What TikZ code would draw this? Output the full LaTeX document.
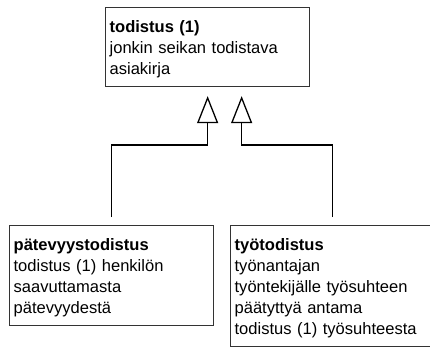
\documentclass[tikz,border=0pt]{standalone}
\usepackage{fontspec}
\setmainfont{Liberation Sans}
\usetikzlibrary{arrows.meta}
\newcommand{\firstln}{\rule{0pt}{25bp}}
\newcommand{\lastln}{\rule[-12bp]{0pt}{12bp}}
\tikzset{
  box/.style={draw=black!80, line width=1.3bp, rectangle, anchor=north west,
    inner xsep=4bp, inner ysep=0pt, text width=196bp, align=left,
    font=\fontsize{16.6}{21}\selectfont},
  inh/.style={draw=black, line width=1.3bp,
    -{Triangle[open, length=27bp, width=21bp]}},
}
\begin{document}
\begin{tikzpicture}[x=1bp,y=-1bp]
\useasboundingbox (0,0) rectangle (430,352);
\node[box] (todistus) at (105,7)
  {\firstln\textbf{todistus (1)}\\jonkin seikan todistava\\asiakirja\lastln};
\node[box] (pt) at (9,225)
  {\firstln\textbf{pätevyystodistus}\\todistus (1) henkilön\\saavuttamasta\\pätevyydestä\lastln};
\node[box] (tt) at (230,225)
  {\firstln\textbf{työtodistus}\\työnantajan\\työntekijälle työsuhteen\\päätyttyä antama\\todistus (1) työsuhteesta\lastln};
\coordinate (bus) at (0,145);
\coordinate (ls) at ([yshift=8bp]pt.north);
\coordinate (rs) at ([yshift=8bp]tt.north);
\coordinate (lt) at ([yshift=-9bp]todistus.south);
\coordinate (rt) at ([xshift=34bp,yshift=-9bp]todistus.south);
\draw[inh] (ls) |- (bus -| lt) -- (lt);
\draw[inh] (rs) |- (bus -| rt) -- (rt);
\end{tikzpicture}
\end{document}
